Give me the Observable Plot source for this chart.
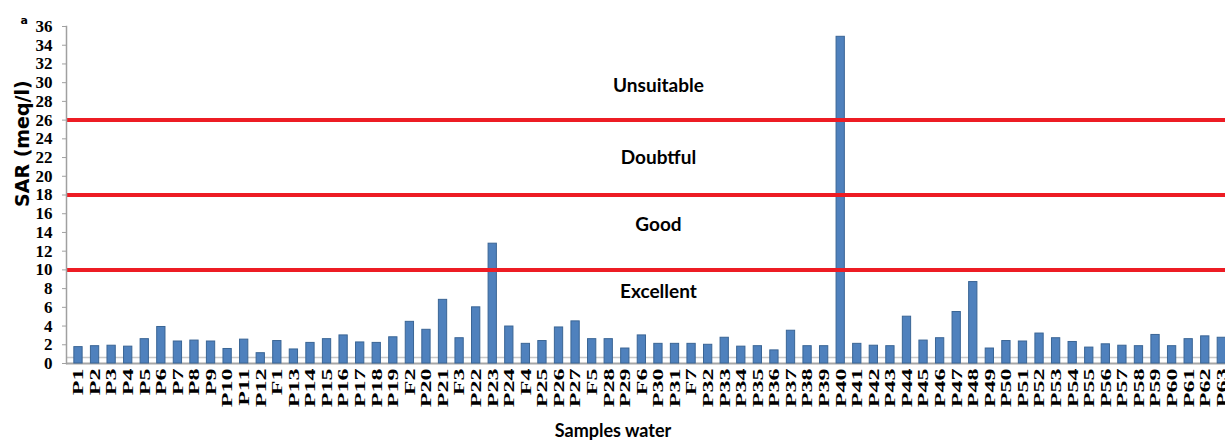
<!DOCTYPE html>
<html>
<head>
<meta charset="utf-8">
<script src="https://cdn.jsdelivr.net/npm/d3@7"></script>
<script src="https://cdn.jsdelivr.net/npm/@observablehq/plot@0.6"></script>
<style>
  html, body { margin: 0; padding: 0; background: #fff; }
  #chart svg { display: block; }
</style>
</head>
<body>
<div id="chart"></div>
<script>
const samples = ["P1","P2","P3","P4","P5","P6","P7","P8","P9","P10","P11","P12","F1","P13","P14","P15","P16","P17","P18","P19","F2","P20","P21","F3","P22","P23","P24","F4","P25","P26","P27","F5","P28","P29","F6","P30","P31","F7","P32","P33","P34","P35","P36","P37","P38","P39","P40","P41","P42","P43","P44","P45","P46","P47","P48","P49","P50","P51","P52","P53","P54","P55","P56","P57","P58","P59","P60","P61","P62","P63"];
const sar = [1.75,1.85,1.9,1.8,2.6,3.9,2.35,2.45,2.35,1.55,2.55,1.1,2.4,1.5,2.2,2.6,3.0,2.25,2.2,2.8,4.45,3.6,6.8,2.7,6.0,12.8,3.95,2.1,2.4,3.85,4.5,2.6,2.6,1.6,3.0,2.1,2.1,2.1,2.0,2.75,1.8,1.85,1.4,3.5,1.85,1.85,34.9,2.1,1.9,1.85,5.0,2.45,2.7,5.5,8.7,1.6,2.4,2.35,3.2,2.7,2.3,1.7,2.05,1.9,1.85,3.05,1.85,2.6,2.9,2.75];
const limits = [10, 18, 26];
const zoneNames = ["Excellent", "Good", "Doubtful", "Unsuitable"];
const zoneLabelY = [7.7, 14.8, 22.0, 29.7];
const zoneLabelX = "P30";
const yTicks = d3.range(0, 37, 2);

const data = samples.map((s, i) => ({sample: s, sar: sar[i]}));
const zones = zoneNames.map((n, i) => ({name: n, y: zoneLabelY[i]}));

const chart = Plot.plot({
  width: 1225,
  height: 444,
  marginLeft: 66,
  marginRight: 0,
  marginTop: 26,
  marginBottom: 81,
  style: {background: "#fff", overflow: "visible"},
  x: {type: "band", domain: samples, range: [69.7, 1229.6], paddingInner: 0.5, paddingOuter: 0.25},
  y: {domain: [0, 36]},
  marks: [
    Plot.ruleY([0], {dy: -6, stroke: "#c8c8c8", strokeWidth: 1.5}),
    Plot.ruleY([0], {stroke: "#a6a6a6", strokeWidth: 2}),
    Plot.barY(data, {x: "sample", y: "sar", fill: "#4f81bd", stroke: "#3a6595", strokeWidth: 1}),
    Plot.ruleY(limits, {stroke: "#ed1c24", strokeWidth: 4}),
    Plot.frame({anchor: "left", stroke: "#a0a0a0", strokeWidth: 1.5}),
    Plot.axisY({
      ticks: yTicks, tickSize: 4, tickPadding: 10, label: null,
      stroke: "#a0a0a0",
      fontFamily: "Liberation Serif", fontWeight: "bold", fontSize: 17, fill: "#000"
    }),
    Plot.axisX({
      tickRotate: -90, tickSize: 0, tickPadding: 5, label: null,
      fontFamily: "Liberation Serif", fontWeight: "bold", fontSize: 16, fill: "#000"
    }),
    Plot.text(zones, {
      x: () => zoneLabelX, y: "y", text: "name",
      fontFamily: "Lato", fontWeight: "bold", fontSize: 19, fill: "#000"
    }),
    Plot.text(["SAR (meq/l)"], {
      frameAnchor: "left", rotate: -90, dx: -44, dy: 12,
      fontFamily: "DejaVu Sans", fontWeight: "bold", fontSize: 19, fill: "#000"
    }),
    Plot.text(["Samples water"], {
      frameAnchor: "bottom", dx: -33, dy: 73,
      fontFamily: "Lato", fontWeight: "bold", fontSize: 18, fill: "#000"
    }),
    Plot.text(["a"], {
      frameAnchor: "top-left", dx: -46, dy: -10,
      fontFamily: "DejaVu Sans", fontWeight: "bold", fontSize: 11, fill: "#000"
    })
  ]
});
// stretch the rotated sample labels lengthwise, like the reference's tall narrow glyphs
d3.select(chart).selectAll('g[aria-label="x-axis tick label"] text').each(function() {
  const t = this.getAttribute("transform") || "";
  this.setAttribute("transform", t + " scale(1.5,0.95)");
});
document.getElementById("chart").appendChild(chart);
</script>
</body>
</html>
